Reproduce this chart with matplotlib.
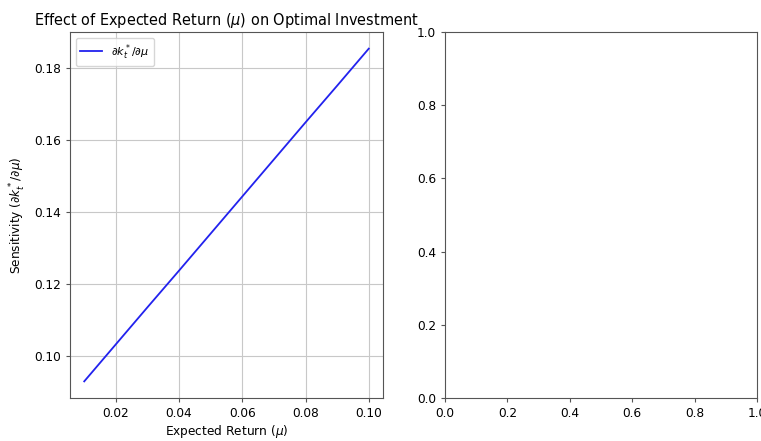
import matplotlib
matplotlib.use("Agg")
import matplotlib.pyplot as plt

# Sensitivity of optimal investment to the expected return
mu_values = [0.01, 0.02, 0.03, 0.04, 0.05, 0.06, 0.07, 0.08, 0.09, 0.10]
sensitivity = [0.0930, 0.1033, 0.1136, 0.1238, 0.1341, 0.1444, 0.1547, 0.1650, 0.1752, 0.1855]

W, H = 761, 441
s = 0.87
fig = plt.figure(figsize=(W / 100, H / 100), dpi=100)

def box(l, t, r, b):
    return [l / W, 1 - b / H, (r - l) / W, (b - t) / H]

ax1 = fig.add_axes(box(70, 32, 383, 398))
ax2 = fig.add_axes(box(445, 32, 757, 398))

ax1.plot(mu_values, sensitivity, color="#2222ee", lw=1.5 * s,
         label=r"$\partial k_t^* / \partial \mu$")
ax1.set_title(r"Effect of Expected Return ($\mu$) on Optimal Investment",
              fontsize=12 * s, pad=6 * s)
ax1.set_xlabel(r"Expected Return ($\mu$)", fontsize=10 * s, labelpad=2)
ax1.set_ylabel(r"Sensitivity ($\partial k_t^* / \partial \mu$)", fontsize=10 * s)
ax1.grid(True, color="#c8c8c8", lw=0.8)
ax1.legend(loc="upper left", fontsize=8)

for ax in (ax1, ax2):
    ax.tick_params(labelsize=10 * s, length=3.5 * s, color="#555555")
    for sp in ax.spines.values():
        sp.set_color("#555555")

fig.savefig("out.png", dpi=100)
